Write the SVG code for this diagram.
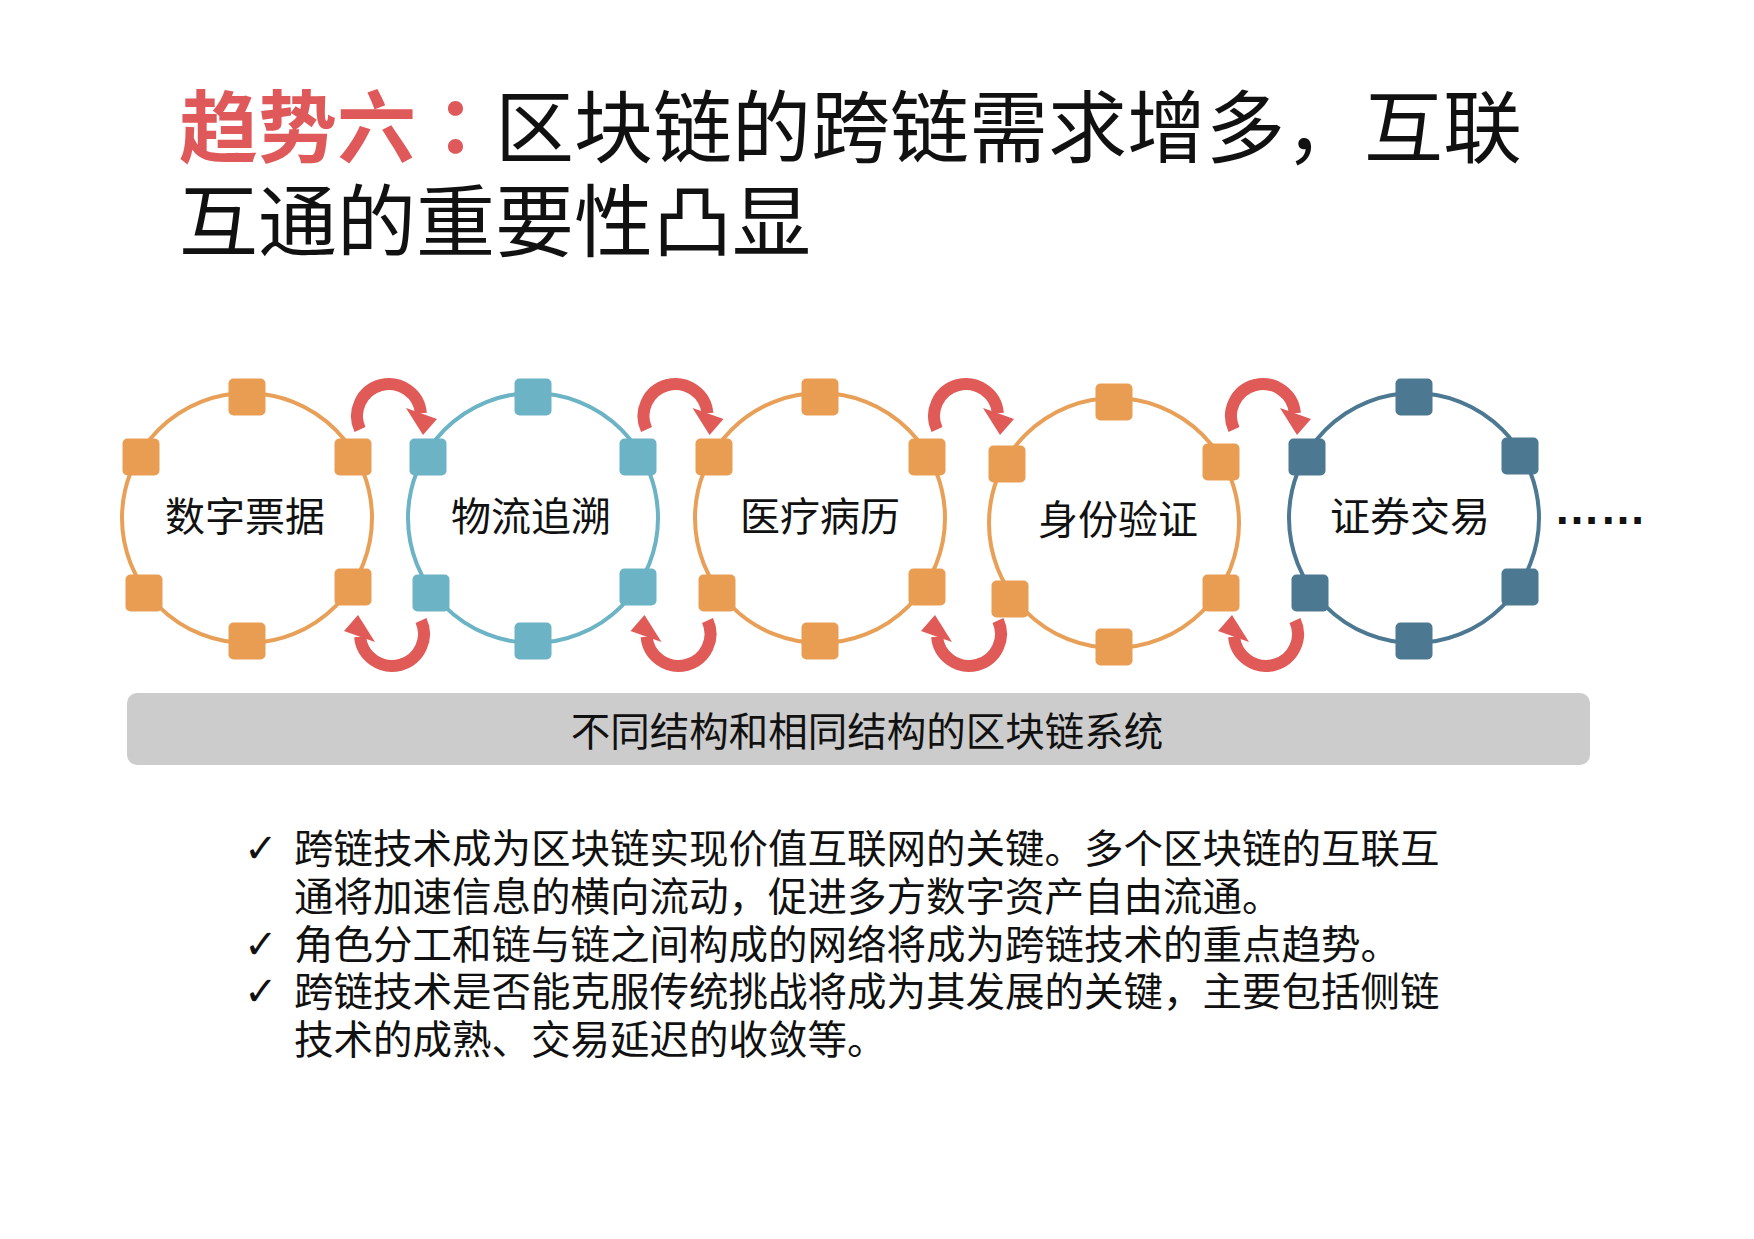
<svg xmlns="http://www.w3.org/2000/svg" width="1754" height="1239" viewBox="0 0 1754 1239">
<style>
  .cjk { font-family: "Noto Sans CJK SC", "Noto Sans", sans-serif; }
  .tc { font-family: "Noto Sans CJK TC", "Noto Sans CJK SC", sans-serif; }
  .title { font-size: 79px; fill: #111; }
  .title-red { fill: #E0595A; font-weight: bold; }
  .ring { fill: none; stroke-width: 4; }
  .label { font-size: 40px; fill: #111; text-anchor: middle; }
  .bar-label { font-size: 39.5px; fill: #111; text-anchor: middle; }
  .bullet { font-size: 39.5px; fill: #111; }
  .check { font-family: "DejaVu Sans", sans-serif; font-size: 40px; fill: #111; }
  .arc { fill: none; stroke: #E05A58; stroke-width: 12; }
  .head { fill: #E05A58; }
  .orange { stroke: #E8A058; }
  .teal { stroke: #6BB3C5; }
  .slate { stroke: #4D7892; }
  .sq-orange { fill: #E89D52; }
  .sq-teal { fill: #6BB3C5; }
  .sq-slate { fill: #4D7892; }
</style>
<defs>
  <rect id="sq" x="-18.5" y="-18.5" width="37" height="37" rx="5"/>
</defs>
<rect width="1754" height="1239" fill="#FFFFFF"/>

<g id="title" class="cjk title">
  <text x="179" y="157"><tspan class="title-red tc">趋势六：</tspan>区块链的跨链需求增多，互联</text>
  <text x="179" y="251">互通的重要性凸显</text>
</g>

<g id="node-1">
  <circle class="ring orange" cx="247" cy="518" r="125"/>
  <g class="sq-orange">
    <use href="#sq" x="247" y="397"/><use href="#sq" x="247" y="641"/>
    <use href="#sq" x="141" y="457"/><use href="#sq" x="353" y="457"/>
    <use href="#sq" x="144" y="593"/><use href="#sq" x="353" y="587"/>
  </g>
  <text class="cjk label" x="245" y="531">数字票据</text>
</g>

<g id="node-2">
  <circle class="ring teal" cx="533" cy="518" r="125"/>
  <g class="sq-teal">
    <use href="#sq" x="533" y="397"/><use href="#sq" x="533" y="641"/>
    <use href="#sq" x="428" y="457"/><use href="#sq" x="638" y="457"/>
    <use href="#sq" x="431" y="593"/><use href="#sq" x="638" y="587"/>
  </g>
  <text class="cjk label" x="531" y="531">物流追溯</text>
</g>

<g id="node-3">
  <circle class="ring orange" cx="820" cy="518" r="125"/>
  <g class="sq-orange">
    <use href="#sq" x="820" y="397"/><use href="#sq" x="820" y="641"/>
    <use href="#sq" x="714" y="457"/><use href="#sq" x="927" y="457"/>
    <use href="#sq" x="717" y="593"/><use href="#sq" x="927" y="587"/>
  </g>
  <text class="cjk label" x="820" y="531">医疗病历</text>
</g>

<g id="node-4">
  <circle class="ring orange" cx="1114" cy="523" r="125"/>
  <g class="sq-orange">
    <use href="#sq" x="1114" y="402"/><use href="#sq" x="1114" y="647"/>
    <use href="#sq" x="1007" y="464"/><use href="#sq" x="1221" y="462"/>
    <use href="#sq" x="1010" y="599"/><use href="#sq" x="1221" y="593"/>
  </g>
  <text class="cjk label" x="1118" y="534">身份验证</text>
</g>

<g id="node-5">
  <circle class="ring slate" cx="1414" cy="518" r="125"/>
  <g class="sq-slate">
    <use href="#sq" x="1414" y="397"/><use href="#sq" x="1414" y="641"/>
    <use href="#sq" x="1307" y="457"/><use href="#sq" x="1520" y="456"/>
    <use href="#sq" x="1310" y="593"/><use href="#sq" x="1520" y="587"/>
  </g>
  <text class="cjk label" x="1410" y="531">证券交易</text>
</g>

<g id="ellipsis">
  <text x="1554" y="524" style="font-family:'Liberation Sans',sans-serif;font-size:46px;font-weight:bold;fill:#111">……</text>
</g>

<g id="connectors">
  <!-- gap 1 -->
  <path class="arc" d="M360 429.5 A32 32 0 1 1 420.9 413.2"/>
  <polygon class="head" points="406,408 437,419 423,435"/>
  <path class="arc" d="M421 620.5 A32 32 0 1 1 360.1 636.8"/>
  <polygon class="head" points="375,642 344,631 358,615"/>
  <!-- gap 2 -->
  <path class="arc" d="M646.5 429.5 A32 32 0 1 1 707.4 413.2"/>
  <polygon class="head" points="692.5,408 723.5,419 709.5,435"/>
  <path class="arc" d="M707.5 620.5 A32 32 0 1 1 646.6 636.8"/>
  <polygon class="head" points="661.5,642 630.5,631 644.5,615"/>
  <!-- gap 3 -->
  <path class="arc" d="M937 429.5 A32 32 0 1 1 997.9 413.2"/>
  <polygon class="head" points="983,408 1014,419 1000,435"/>
  <path class="arc" d="M998 620.5 A32 32 0 1 1 937.1 636.8"/>
  <polygon class="head" points="952,642 921,631 935,615"/>
  <!-- gap 4 -->
  <path class="arc" d="M1234 429.5 A32 32 0 1 1 1294.9 413.2"/>
  <polygon class="head" points="1280,408 1311,419 1297,435"/>
  <path class="arc" d="M1295 620.5 A32 32 0 1 1 1234.1 636.8"/>
  <polygon class="head" points="1249,642 1218,631 1232,615"/>
</g>

<g id="base-bar">
  <rect x="127" y="693" width="1463" height="72" rx="10" fill="#CCCCCC"/>
  <text class="cjk bar-label" x="867" y="746">不同结构和相同结构的区块链系统</text>
</g>

<g id="bullets">
  <text class="check" x="244" y="862">✓</text>
  <text class="cjk bullet" x="294" y="863">跨链技术成为区块链实现价值互联网的关键。多个区块链的互联互</text>
  <text class="cjk bullet" x="294" y="911">通将加速信息的横向流动，促进多方数字资产自由流通。</text>
  <text class="check" x="244" y="958">✓</text>
  <text class="cjk bullet" x="294" y="959">角色分工和链与链之间构成的网络将成为跨链技术的重点趋势。</text>
  <text class="check" x="244" y="1005">✓</text>
  <text class="cjk bullet" x="294" y="1006">跨链技术是否能克服传统挑战将成为其发展的关键，主要包括侧链</text>
  <text class="cjk bullet" x="294" y="1054">技术的成熟、交易延迟的收敛等。</text>
</g>
</svg>
